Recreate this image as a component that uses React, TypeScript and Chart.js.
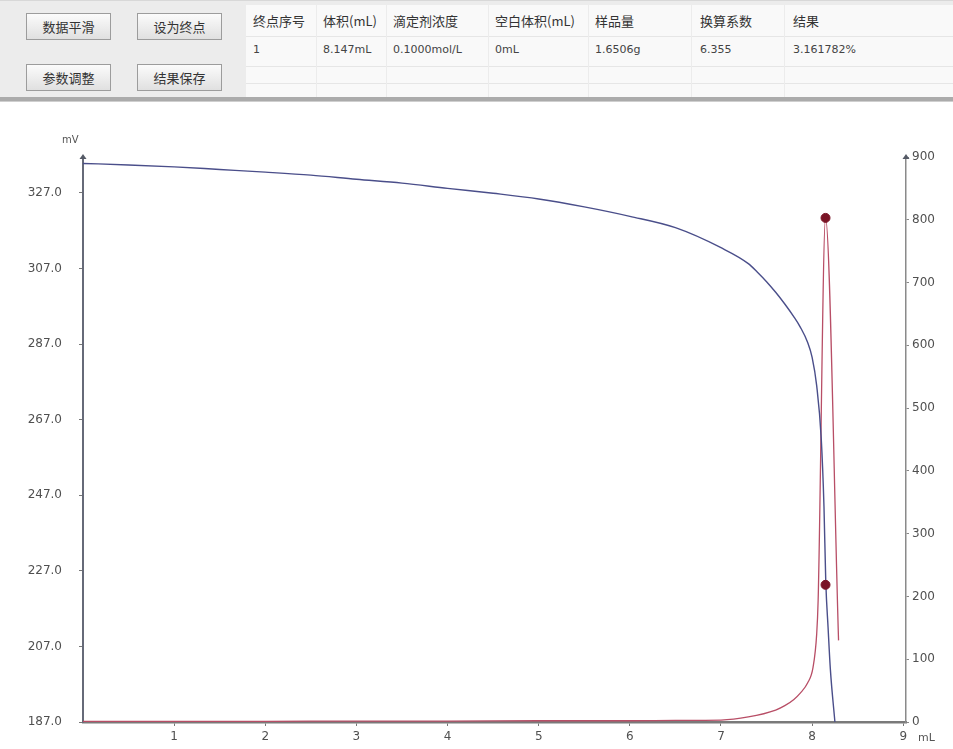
import React, { useEffect, useRef } from "react";
import { Chart, registerables } from "chart.js";

Chart.register(...registerables);

// ---- data ----
const volumes = [0, 0.5, 1, 1.5, 2, 2.5, 3, 3.5, 4, 4.5, 5, 5.5, 6, 6.5, 7, 7.3, 7.4, 7.5, 7.6, 7.7, 7.8, 7.87, 7.95, 8.0, 8.05, 8.1, 8.13, 8.15, 8.175, 8.2, 8.25];
const potentials = [334.8, 334.4, 333.9, 333.2, 332.5, 331.7, 330.6, 329.6, 328.2, 326.9, 325.4, 323.3, 320.8, 317.8, 312.5, 308.3, 306.0, 303.5, 300.7, 297.6, 294.2, 291.5, 287.5, 283.5, 276.0, 262.0, 244.0, 224.0, 212.0, 201.0, 187.0];

const derivVolumes = [0, 1, 2, 3, 4, 5, 6, 6.5, 7, 7.3, 7.6, 7.7, 7.8, 7.87, 7.95, 8.01, 8.05, 8.066, 8.147, 8.29];
const derivValues = [1, 1, 1, 1.5, 1.5, 2, 2, 2.5, 3, 8, 19, 26, 36, 46, 62, 87, 140, 194, 803, 130];

const endpointVolume = [8.147];
const endpointPotential = [223.3];
const endpointDeriv = [803];

const leftTicks = [187, 207, 227, 247, 267, 287, 307, 327];
const rightTicks = [0, 100, 200, 300, 400, 500, 600, 700, 800, 900];
const xTicks = [1, 2, 3, 4, 5, 6, 7, 8, 9];

const buttonLabels = ["数据平滑", "设为终点", "参数调整", "结果保存"];
const tableHeaders = ["终点序号", "体积(mL)", "滴定剂浓度", "空白体积(mL)", "样品量", "换算系数", "结果"];
const tableRow = ["1", "8.147mL", "0.1000mol/L", "0mL", "1.6506g", "6.355", "3.161782%"];

const colStarts = [253, 323, 393, 495, 595, 700, 793];
const buttonPos = [
  [26, 12],
  [137, 12],
  [26, 63],
  [137, 63],
];

const axisArrows = {
  id: "axisArrows",
  afterDraw(chart: any) {
    const { ctx, chartArea } = chart;
    ctx.save();
    ctx.fillStyle = "#555a66";
    for (const x of [chartArea.left, chartArea.right]) {
      ctx.beginPath();
      ctx.moveTo(x - 3.5, chartArea.top + 2);
      ctx.lineTo(x + 3.5, chartArea.top + 2);
      ctx.lineTo(x, chartArea.top - 3);
      ctx.closePath();
      ctx.fill();
    }
    ctx.restore();
  },
};

const tickFont = { family: "'DejaVu Sans', sans-serif", size: 12 };

export default function App() {
  const canvasRef = useRef<HTMLCanvasElement | null>(null);

  useEffect(() => {
    document.body.style.margin = "0";
    const canvas = canvasRef.current;
    if (!canvas) return;
    const chart = new Chart(canvas, {
      type: "line",
      data: {
        datasets: [
          {
            label: "endpoint-d",
            data: endpointVolume.map((v, i) => ({ x: v, y: endpointDeriv[i] })),
            yAxisID: "y1",
            showLine: false,
            pointRadius: 4.5,
            pointBackgroundColor: "#7a1426",
            pointBorderColor: "#7a1426",
          },
          {
            label: "endpoint-e",
            data: endpointVolume.map((v, i) => ({ x: v, y: endpointPotential[i] })),
            yAxisID: "y",
            showLine: false,
            pointRadius: 4.5,
            pointBackgroundColor: "#7a1426",
            pointBorderColor: "#7a1426",
          },
          {
            label: "E",
            data: volumes.map((v, i) => ({ x: v, y: potentials[i] })),
            yAxisID: "y",
            borderColor: "#4a4e8a",
            borderWidth: 1.4,
            pointRadius: 0,
            cubicInterpolationMode: "monotone",
            fill: false,
          },
          {
            label: "dE/dV",
            data: derivVolumes.map((v, i) => ({ x: v, y: derivValues[i] })),
            yAxisID: "y1",
            borderColor: "#b84e66",
            borderWidth: 1.3,
            pointRadius: 0,
            cubicInterpolationMode: "monotone",
            fill: false,
          },
        ],
      },
      options: {
        animation: false,
        responsive: false,
        maintainAspectRatio: false,
        layout: { padding: { top: 55, left: 0, right: 0, bottom: 0 } },
        plugins: { legend: { display: false }, tooltip: { enabled: false } },
        scales: {
          x: {
            type: "linear",
            min: 0,
            max: 9.03,
            afterBuildTicks: (s: any) => {
              s.ticks = xTicks.map((v) => ({ value: v }));
            },
            afterFit: (s: any) => {
              s.height = 27;
            },
            ticks: { font: tickFont, color: "#505050", padding: 4, callback: (v: any) => String(v) },
            grid: { drawOnChartArea: false, drawTicks: true, tickLength: 4, color: "#777" },
            border: { display: true, color: "#7a7a7a", width: 2.5 },
          },
          y: {
            type: "linear",
            position: "left",
            min: 187,
            max: 336.5,
            afterBuildTicks: (s: any) => {
              s.ticks = leftTicks.map((v) => ({ value: v }));
            },
            afterFit: (s: any) => {
              s.width = 83;
            },
            ticks: { font: tickFont, color: "#505050", padding: 17, callback: (v: any) => Number(v).toFixed(1) },
            grid: { drawOnChartArea: false, drawTicks: true, tickLength: 4, color: "#777" },
            border: { display: true, color: "#666a78", width: 2 },
          },
          y1: {
            type: "linear",
            position: "right",
            min: 0,
            max: 900,
            afterBuildTicks: (s: any) => {
              s.ticks = rightTicks.map((v) => ({ value: v }));
            },
            afterFit: (s: any) => {
              s.width = 47;
            },
            ticks: { font: tickFont, color: "#505050", padding: 3, callback: (v: any) => String(v) },
            grid: { drawOnChartArea: false, drawTicks: true, tickLength: 3, color: "#888" },
            border: { display: true, color: "#8a8a8a", width: 1.5 },
          },
        },
      },
      plugins: [axisArrows],
    } as any);
    return () => chart.destroy();
  }, []);

  const cjk = "'Noto Sans CJK SC', 'DejaVu Sans', sans-serif";

  return (
    <div style={{ position: "relative", width: 953, height: 749, overflow: "hidden", background: "#ffffff", fontFamily: cjk }}>
      <div style={{ position: "absolute", left: 0, top: 0, width: 953, height: 97, background: "#ececec", borderTop: "1px solid #d8d8d8", boxSizing: "border-box" }}>
        {buttonLabels.map((b, i) => (
          <div
            key={b}
            style={{
              position: "absolute",
              left: buttonPos[i][0],
              top: buttonPos[i][1],
              width: 85,
              height: 27,
              boxSizing: "border-box",
              border: "1px solid #9c9c9c",
              background: "linear-gradient(#fbfbfb, #e0e0e0)",
              display: "flex",
              alignItems: "center",
              justifyContent: "center",
              fontSize: 13,
              color: "#333",
            }}
          >
            {b}
          </div>
        ))}
        <div style={{ position: "absolute", left: 246, top: 4, width: 707, height: 93, background: "#f9f9f9" }}>
          {[31, 61, 78].map((y) => (
            <div key={y} style={{ position: "absolute", left: 0, top: y, width: 707, height: 1, background: "#e6e6e6" }} />
          ))}
          {[70, 140, 242, 342, 445, 538].map((x) => (
            <div key={x} style={{ position: "absolute", left: x, top: 0, width: 1, height: 93, background: "#ececec" }} />
          ))}
        </div>
        {tableHeaders.map((h, i) => (
          <div key={h} style={{ position: "absolute", left: colStarts[i], top: 11, fontSize: 13, color: "#333", whiteSpace: "nowrap", lineHeight: "18px" }}>
            {h}
          </div>
        ))}
        {tableRow.map((h, i) => (
          <div key={i} style={{ position: "absolute", left: colStarts[i], top: 40, fontSize: 11, color: "#444", whiteSpace: "nowrap", lineHeight: "18px", fontFamily: "'DejaVu Sans', sans-serif" }}>
            {h}
          </div>
        ))}
      </div>
      <div style={{ position: "absolute", left: 0, top: 97, width: 953, height: 5, background: "#ababab", borderBottom: "1px solid #cfcfcf", boxSizing: "border-box" }} />
      <div style={{ position: "absolute", left: 0, top: 102, width: 953, height: 647 }}>
        <canvas ref={canvasRef} width={953} height={647} style={{ display: "block", width: 953, height: 647 }} />
      </div>
      <div style={{ position: "absolute", left: 62, top: 134, fontSize: 10, color: "#555", fontFamily: "'DejaVu Sans', sans-serif" }}>mV</div>
      <div style={{ position: "absolute", left: 918, top: 731, fontSize: 11, color: "#555", fontFamily: "'DejaVu Sans', sans-serif" }}>mL</div>
    </div>
  );
}
